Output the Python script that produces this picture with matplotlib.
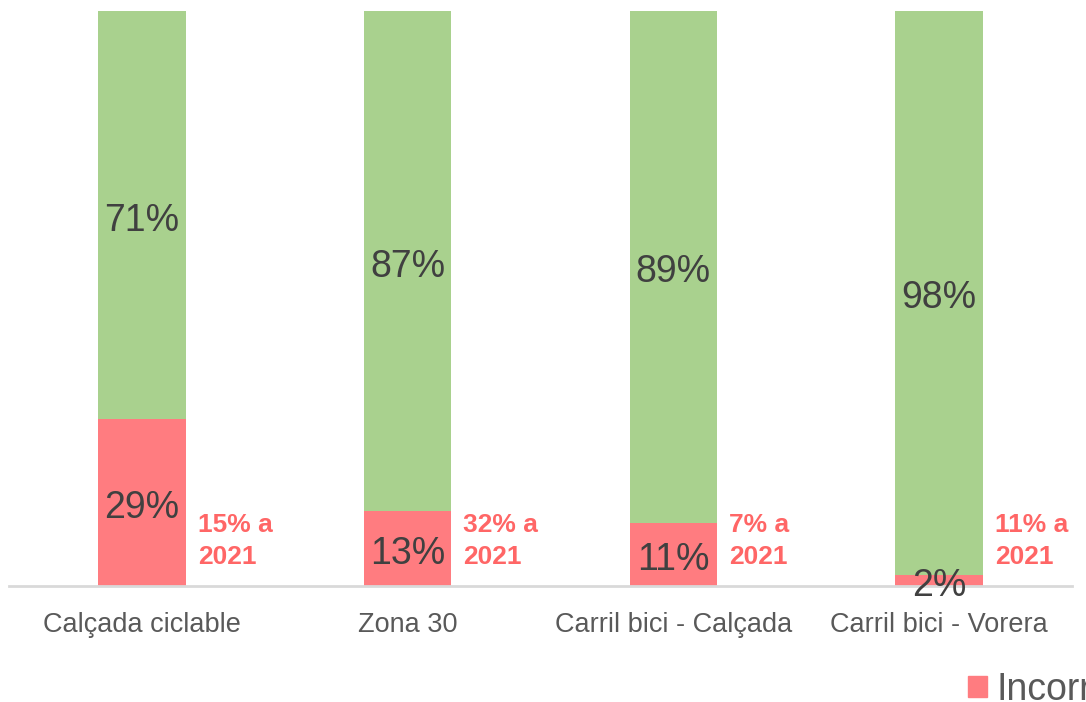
import matplotlib
matplotlib.use('Agg')
from matplotlib import pyplot as plt
from matplotlib.patches import Patch

plt.rcParams['font.family'] = ['Liberation Sans', 'DejaVu Sans']

categories = ['Calçada ciclable', 'Zona 30', 'Carril bici - Calçada', 'Carril bici - Vorera']
incorrecte = [29, 13, 11, 2]
correcte = [71, 87, 89, 98]
notes_2021 = ['15% a\n2021', '32% a\n2021', '7% a\n2021', '11% a\n2021']

red = '#FF7C80'
green = '#A9D18E'

fig = plt.figure(figsize=(10.86, 7.02), dpi=100)
ax = fig.add_axes([9 / 1086, 1 - 586 / 702, (1072 - 9) / 1086, (586 - 11) / 702])

x = range(len(categories))
bw = 0.33
ax.bar(x, incorrecte, width=bw, color=red, zorder=2)
ax.bar(x, correcte, width=bw, bottom=incorrecte, color=green, zorder=2)

# percentage labels centred in each segment (nudged down a little)
for i in x:
    ax.annotate(f'{incorrecte[i]}%', (i, incorrecte[i] / 2), xytext=(0, -4),
                textcoords='offset points', ha='center', va='center',
                fontsize=27, color='#404040', zorder=5)
    ax.annotate(f'{correcte[i]}%', (i, incorrecte[i] + correcte[i] / 2), xytext=(0, -4),
                textcoords='offset points', ha='center', va='center',
                fontsize=27, color='#404040', zorder=5)
    ax.text(i + 0.21, 7.8, notes_2021[i], ha='left', va='center', fontsize=19,
            fontweight='bold', color='#FF6666', linespacing=1.45, zorder=5)

ax.set_xlim(-0.5, 3.5)
ax.set_ylim(0, 100)
ax.set_xticks(list(x))
ax.set_xticklabels(categories, fontsize=19.5, color='#595959')
ax.tick_params(axis='x', length=0, pad=19)
ax.set_yticks([])
for s in ['top', 'right', 'left']:
    ax.spines[s].set_visible(False)
ax.spines['bottom'].set_color('#D9D9D9')
ax.spines['bottom'].set_linewidth(2)
ax.spines['bottom'].set_zorder(3)

fig.legend(handles=[Patch(color=red, label='Incorrecte'), Patch(color=green, label='Correcte')],
           loc='center left', bbox_to_anchor=(968 / 1086, 1 - 690 / 702), ncol=2,
           frameon=False, fontsize=27, labelcolor='#595959',
           handlelength=0.5, handleheight=0.5, handletextpad=0.25, borderaxespad=0,
           borderpad=0)

fig.savefig('out.png', dpi=100)
